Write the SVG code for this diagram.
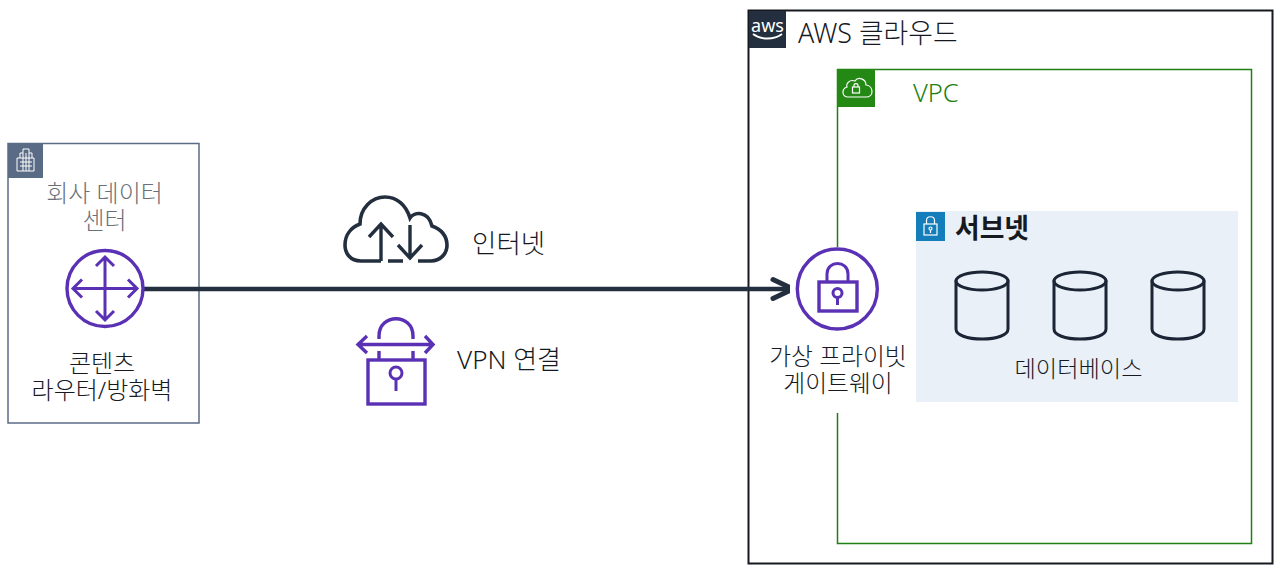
<svg xmlns="http://www.w3.org/2000/svg" width="1280" height="571" viewBox="0 0 1280 571">
<style>
text{font-family:"Noto Sans","Noto Sans CJK KR",sans-serif;font-size:24px;fill:#16191f;font-weight:300}
.m{text-anchor:middle}
.p{fill:none;stroke:#5A30B5;stroke-width:3}
.d{fill:none;stroke:#1b2535;stroke-width:3;stroke-linecap:round;stroke-linejoin:round}
.n{fill:none;stroke:#232F3E;stroke-width:3.4}
.w{fill:none;stroke:#fff;stroke-width:1.2}
</style>
<defs>
<g id="db"><path class="d" d="M0 9V57C0 63 11 67 26 67S52 63 52 57V9"/><ellipse class="d" cx="26" cy="9" rx="26" ry="9"/></g>
</defs>
<rect width="1280" height="571" fill="#fff"/>
<g id="aws-cloud">
<rect x="748.500" y="10.500" width="524" height="553" fill="#fff" stroke="#16191f" stroke-width="2"/>
<rect x="749" y="11" width="37" height="37" fill="#232F3E"/>
<text x="767.500" y="32" class="m" style="fill:#fff;font-size:18px;font-weight:400">aws</text>
<path d="M753 34C761 40 774 40 782 34" fill="none" stroke="#fff" stroke-width="1.800"/>
<text x="798" y="43" style="font-size:26.800px">AWS 클라우드</text>
</g>
<g id="vpc">
<path d="M837.500 247V69.500H1251.500V543.500H837.500V413" fill="none" stroke="#1f7f12" stroke-width="1.500"/>
<rect x="837" y="69" width="38" height="38" fill="#248814"/>
<path class="w" d="M848 97H866C874 97 874 86 866 85C866 79 858 76 855 81C849 79 846 84 847 87C841 89 842 97 848 97Z"/>
<rect x="852.500" y="87" width="7" height="6" class="w"/>
<path class="w" d="M854 87V85.500C854 83 858 83 858 85.500V87"/>
<text x="913" y="102" style="font-size:25.500px;fill:#1f7f12">VPC</text>
</g>
<g id="subnet">
<rect x="916" y="211" width="322" height="191" fill="#E9F0F7"/>
<rect x="916" y="212" width="29" height="29" fill="#147EBA"/>
<rect x="924" y="224" width="13" height="11" class="w"/>
<path class="w" d="M926.500 224V220.500C926.500 215.500 934.500 215.500 934.500 220.500V224"/>
<circle cx="930.500" cy="228.500" r="1.500" class="w"/><path class="w" d="M930.500 230V233"/>
<text x="955" y="238" style="font-size:26.800px;font-weight:700">서브넷</text>
</g>
<g id="db1"><use href="#db" x="956" y="272"/></g>
<g id="db2"><use href="#db" x="1054" y="272"/></g>
<g id="db3"><use href="#db" x="1152" y="272"/></g>
<g id="databases"><text x="1078.500" y="377" class="m" style="font-size:23.200px">데이터베이스</text></g>
<g id="data-center">
<rect x="8" y="143.500" width="191" height="279.500" fill="#fff" stroke="#5A6B86" stroke-width="1.500"/>
<rect x="8" y="143" width="35" height="35" fill="#5A6B86"/>
<path class="w" style="stroke-width:1" d="M17 171V158H20V153H23V149H29V153H32V158H34V171ZM20 158H32M20 162H32M20 166H32M23 153V171M26 153V171M29 153V171"/>
<text class="m" style="fill:#6b7078"><tspan x="104.500" y="202">회사 데이터</tspan><tspan x="104.500" y="229">센터</tspan></text>
</g>
<g id="connectors">
<path d="M143 289H791" fill="none" stroke="#232F3E" stroke-width="4.500"/>
<path d="M773 279.500L793 289L773 298.500" fill="none" stroke="#232F3E" stroke-width="5" stroke-linecap="round" stroke-linejoin="round"/>
</g>
<g id="router">
<circle cx="105" cy="288.500" r="38" class="p" style="stroke-width:3.400;fill:#fff"/>
<path class="p" d="M105 257V320M73 288.500H137M96 266L105 257L114 266M96 311L105 320L114 311M82 279.500L73 288.500L82 297.500M128 279.500L137 288.500L128 297.500"/>
<text class="m"><tspan x="102" y="372">콘텐츠</tspan><tspan x="102" y="399">라우터/방화벽</tspan></text>
</g>
<g id="internet">
<path class="n" style="stroke-width:3.600" d="M381 261H361C350 261 345 253 345 245C345 234 352 227 360 224C360 208 372 197 385 197C397 197 406 205 410 218C414 212 428 210 432 226C441 229 447 236 447 245C447 254 440 261 431 261H418M388 261H403"/>
<path class="n" d="M381 261V224M369 237L381 224L393 237M410 225V258M398 245L410 258L422 245"/>
<text x="472" y="253" style="font-size:26.500px">인터넷</text>
</g>
<g id="vpn">
<path class="p" style="stroke-width:3.400" d="M358 344.500H433M367 336L358 344.500L367 353M425 336L433 344.500L425 353M379 339V336C379 313 413 313 413 336V339M379 351V360M413 351V360"/>
<rect x="368" y="360" width="57" height="44" class="p" style="stroke-width:3.400"/>
<circle cx="396" cy="373" r="6" class="p" style="stroke-width:3"/><path class="p" d="M396 379V391"/>
<text x="457" y="369" style="font-size:26px">VPN 연결</text>
</g>
<g id="gateway">
<rect x="790" y="247" width="96" height="166" fill="#fff"/>
<circle cx="837.300" cy="289" r="40" class="p" style="stroke-width:3.400"/>
<rect x="819" y="282" width="38" height="29" class="p" style="stroke-width:3.400"/>
<path class="p" d="M827 282V274C827 260 848 260 848 274V282"/>
<circle cx="837.500" cy="293" r="4.500" class="p"/><path class="p" d="M837.500 297.500V305"/>
<text class="m" style="font-size:23.800px"><tspan x="838" y="365">가상 프라이빗</tspan><tspan x="838" y="392">게이트웨이</tspan></text>
</g>
</svg>
